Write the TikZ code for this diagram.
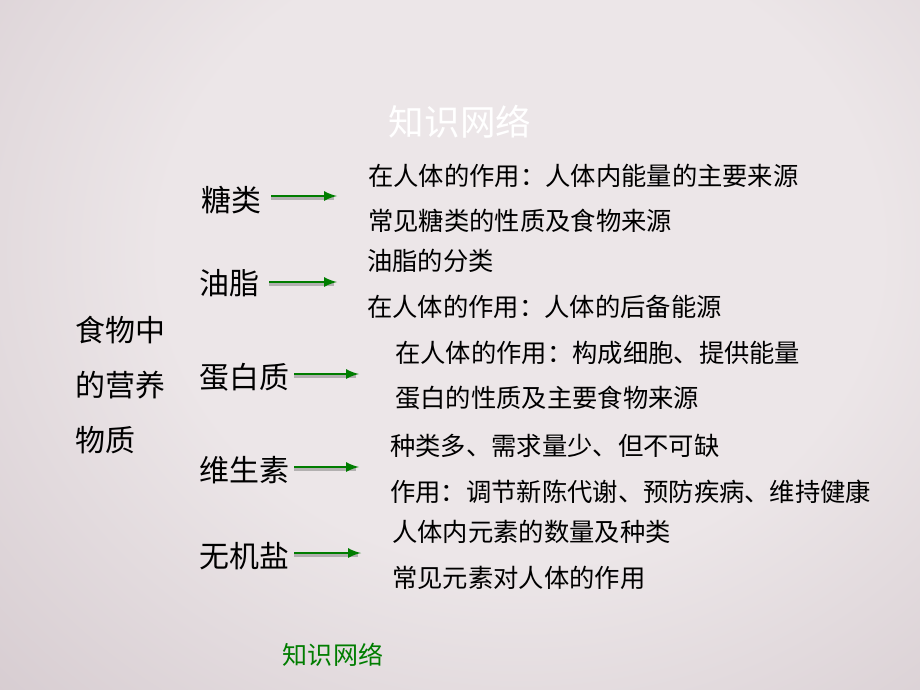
\documentclass[tikz,border=0pt]{standalone}
\usepackage{fontspec}
\usepackage{xcolor}
\usepackage{tikz}
\newfontfamily\cjk{Noto Sans CJK SC}
\definecolor{bgin}{RGB}{236,230,232}
\definecolor{bgout}{RGB}{168,148,158}
\definecolor{arrowgreen}{RGB}{0,125,0}
\pgfdeclareradialshading{bgshade}{\pgfpoint{0bp}{0bp}}{color(0bp)=(bgin); color(16bp)=(bgin); color(70bp)=(bgout); color(100bp)=(bgout)}

\begin{document}
\begin{tikzpicture}[x = 0.025cm, y = -0.025cm,
    item/.style = {anchor = west, inner sep = 0pt, font = \cjk\fontsize{21.3}{25}\selectfont},
    line/.style = {anchor = west, inner sep = 0pt, font = \cjk\fontsize{18}{22}\selectfont},
    shadowline/.style = {draw = black!45, opacity = 0.6, line width = 2.6pt},
    greenline/.style = {draw = arrowgreen, line width = 2.1pt, -latex}]
    \useasboundingbox (0, 0) rectangle (920, 690);
    {
      \clip (0, 0) rectangle (920, 690);
      \shade[shading = bgshade] (-1cm, 6cm) rectangle (27cm, -18.5cm);
    }
    \node[font = \cjk\fontsize{25.3}{30}\selectfont, text = white, inner sep = 0pt] (title) at (460, 122) {知识网络};

    \node[item] (whole1) at (75, 330) {食物中};
    \node[item] (whole2) at (75, 385) {的营养};
    \node[item] (whole3) at (75, 440) {物质};

    \node[item] (tang) at (201, 200) {糖类};
    \node[item] (you) at (199, 283) {油脂};
    \node[item] (dan) at (199, 377) {蛋白质};
    \node[item] (wei) at (199, 470) {维生素};
    \node[item] (yan) at (199, 556) {无机盐};

    \coordinate (tangend) at (337, 196);
    \coordinate (youend) at (337, 282);
    \coordinate (danend) at (359, 374);
    \coordinate (weiend) at (359, 467);
    \coordinate (yanend) at (361, 553);

    \draw[shadowline] ([xshift = 7pt, yshift = -1.2pt] tang.east |- tangend) -- ([xshift = -2pt, yshift = -1.2pt] tangend);
    \draw[shadowline] ([xshift = 7pt, yshift = -1.2pt] you.east |- youend) -- ([xshift = -2pt, yshift = -1.2pt] youend);
    \draw[shadowline] ([xshift = 3.5pt, yshift = -1.2pt] dan.east |- danend) -- ([xshift = -2pt, yshift = -1.2pt] danend);
    \draw[shadowline] ([xshift = 3.5pt, yshift = -1.2pt] wei.east |- weiend) -- ([xshift = -2pt, yshift = -1.2pt] weiend);
    \draw[shadowline] ([xshift = 3.5pt, yshift = -1.2pt] yan.east |- yanend) -- ([xshift = -2pt, yshift = -1.2pt] yanend);

    \draw[greenline] ([xshift = 7pt] tang.east |- tangend) -- (tangend);
    \draw[greenline] ([xshift = 7pt] you.east |- youend) -- (youend);
    \draw[greenline] ([xshift = 3.5pt] dan.east |- danend) -- (danend);
    \draw[greenline] ([xshift = 3.5pt] wei.east |- weiend) -- (weiend);
    \draw[greenline] ([xshift = 3.5pt] yan.east |- yanend) -- (yanend);

    \node[line] (tang1) at (368, 176) {在人体的作用：人体内能量的主要来源};
    \node[line] (tang2) at (368, 221) {常见糖类的性质及食物来源};
    \node[line] (you1) at (367, 261) {油脂的分类};
    \node[line] (you2) at (367, 307) {在人体的作用：人体的后备能源};
    \node[line] (dan1) at (395, 353) {在人体的作用：构成细胞、提供能量};
    \node[line] (dan2) at (395, 398) {蛋白的性质及主要食物来源};
    \node[line] (wei1) at (390, 446) {种类多、需求量少、但不可缺};
    \node[line] (wei2) at (390, 492) {作用：调节新陈代谢、预防疾病、维持健康};
    \node[line] (yan1) at (392, 532) {人体内元素的数量及种类};
    \node[line] (yan2) at (392, 578) {常见元素对人体的作用};

    \node[font = \cjk\fontsize{17.8}{21}\selectfont, text = arrowgreen, inner sep = 0pt] (foot) at (333, 655) {知识网络};
  \end{tikzpicture}
\end{document}
